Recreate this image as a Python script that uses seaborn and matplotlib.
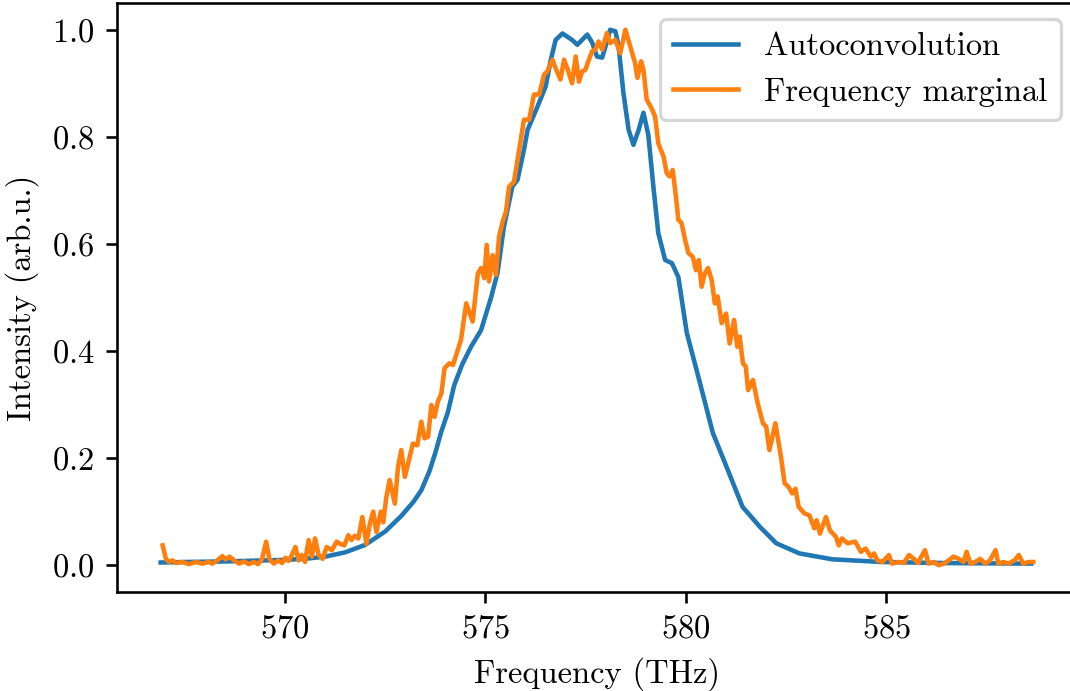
import matplotlib
matplotlib.use("Agg")
import matplotlib.pyplot as plt
import seaborn as sns
import numpy as np

# Autoconvolution of the measured spectrum (smooth curve)
auto_freq = [566.9, 567.5, 568.5, 569.5, 570.0, 570.5, 571.0, 571.5, 572.0, 572.5,
             572.9, 573.2, 573.4, 573.6, 573.75, 573.9, 574.06, 574.22, 574.42, 574.64,
             574.89, 575.14, 575.30, 575.46, 575.67, 575.8, 575.96, 576.05, 576.3, 576.5,
             576.63, 576.75, 576.92, 577.16, 577.29, 577.54, 577.66, 577.78, 577.91, 578.03,
             578.11, 578.24, 578.32, 578.44, 578.57, 578.69, 578.82, 578.94, 579.06, 579.19,
             579.31, 579.48, 579.65, 579.81, 580.02, 580.35, 580.67, 581.01, 581.41, 581.84,
             582.25, 582.83, 583.65, 584.89, 586.5, 588.61]
auto_int = [0.005, 0.006, 0.007, 0.009, 0.010, 0.012, 0.016, 0.024, 0.038, 0.063,
            0.092, 0.118, 0.140, 0.175, 0.21, 0.25, 0.285, 0.336, 0.375, 0.408,
            0.439, 0.50, 0.546, 0.632, 0.707, 0.72, 0.776, 0.813, 0.857, 0.894,
            0.944, 0.981, 0.993, 0.981, 0.972, 0.991, 0.976, 0.950, 0.948, 0.978,
            1.0, 0.997, 0.969, 0.882, 0.813, 0.785, 0.813, 0.845, 0.804, 0.705,
            0.62, 0.570, 0.564, 0.538, 0.434, 0.340, 0.247, 0.184, 0.109, 0.072,
            0.041, 0.022, 0.011, 0.006, 0.004, 0.003]

# Frequency marginal of the measured trace (noisy curve)
marg_freq = [566.95, 567.03, 567.11, 567.2, 567.28, 567.44, 567.61, 567.77, 567.94, 568.1,
             568.19, 568.31, 568.44, 568.52, 568.62, 568.73, 568.85, 568.98, 569.1, 569.22,
             569.33, 569.43, 569.53, 569.61, 569.72, 569.83, 569.93, 570.01, 570.09, 570.17,
             570.26, 570.34, 570.42, 570.5, 570.59, 570.67, 570.75, 570.84, 570.94, 571.04,
             571.17, 571.29, 571.37, 571.48, 571.58, 571.66, 571.74, 571.83, 571.93, 572.03,
             572.12, 572.2, 572.28, 572.39, 572.45, 572.53, 572.61, 572.74, 572.82, 572.9,
             572.99, 573.11, 573.19, 573.3, 573.4, 573.48, 573.57, 573.65, 573.73, 573.81,
             573.9, 573.98, 574.1, 574.19, 574.31, 574.39, 574.52, 574.68, 574.81, 574.89,
             574.97, 575.03, 575.09, 575.18, 575.26, 575.34, 575.43, 575.51, 575.59, 575.71,
             575.8, 575.96, 576.09, 576.21, 576.34, 576.46, 576.54, 576.67, 576.75, 576.87,
             576.96, 577.04, 577.16, 577.25, 577.33, 577.41, 577.49, 577.58, 577.66, 577.74,
             577.82, 577.91, 578.03, 578.11, 578.24, 578.36, 578.49, 578.61, 578.73, 578.79,
             578.88, 578.94, 579.02, 579.15, 579.23, 579.31, 579.44, 579.52, 579.59, 579.67,
             579.75, 579.81, 579.89, 579.98, 580.06, 580.17, 580.25, 580.32, 580.39, 580.47,
             580.55, 580.64, 580.72, 580.79, 580.89, 581.0, 581.09, 581.2, 581.28, 581.34,
             581.42, 581.49, 581.55, 581.67, 581.79, 581.92, 582.0, 582.08, 582.23, 582.37,
             582.46, 582.56, 582.65, 582.73, 582.81, 582.95, 583.08, 583.2, 583.26, 583.34,
             583.49, 583.59, 583.74, 583.81, 583.89, 584.03, 584.22, 584.36, 584.48, 584.61,
             584.69, 584.77, 584.9, 585.06, 585.14, 585.31, 585.43, 585.56, 585.68, 585.79,
             585.87, 585.96, 586.05, 586.18, 586.3, 586.43, 586.55, 586.67, 586.8, 586.92,
             587.0, 587.09, 587.21, 587.34, 587.46, 587.58, 587.72, 587.79, 587.92, 588.04,
             588.19, 588.3, 588.41, 588.54, 588.66]
marg_int = [0.037, 0.012, 0.006, 0.009, 0.004, 0.006, 0.002, 0.006, 0.003, 0.006,
            0.003, 0.009, 0.017, 0.011, 0.016, 0.009, 0.003, 0.007, 0.002, 0.006,
            0.002, 0.012, 0.044, 0.012, 0.003, 0.009, 0.004, 0.014, 0.008, 0.019,
            0.034, 0.009, 0.019, 0.006, 0.047, 0.016, 0.050, 0.019, 0.012, 0.034,
            0.028, 0.044, 0.040, 0.037, 0.056, 0.047, 0.055, 0.050, 0.090, 0.040,
            0.078, 0.100, 0.062, 0.100, 0.080, 0.128, 0.159, 0.115, 0.184, 0.215,
            0.165, 0.202, 0.227, 0.224, 0.268, 0.237, 0.240, 0.299, 0.277, 0.305,
            0.321, 0.368, 0.377, 0.374, 0.402, 0.421, 0.489, 0.455, 0.545, 0.555,
            0.536, 0.598, 0.530, 0.579, 0.542, 0.614, 0.642, 0.660, 0.707, 0.716,
            0.757, 0.832, 0.832, 0.879, 0.879, 0.916, 0.922, 0.944, 0.928, 0.907,
            0.944, 0.928, 0.900, 0.950, 0.903, 0.922, 0.925, 0.944, 0.960, 0.963,
            0.978, 0.963, 0.994, 0.975, 0.981, 0.956, 1.0, 0.969, 0.938, 0.910,
            0.941, 0.925, 0.870, 0.852, 0.838, 0.788, 0.763, 0.732, 0.726, 0.738,
            0.688, 0.645, 0.639, 0.607, 0.583, 0.576, 0.551, 0.570, 0.520, 0.545,
            0.555, 0.533, 0.489, 0.502, 0.452, 0.470, 0.414, 0.458, 0.408, 0.427,
            0.377, 0.371, 0.327, 0.346, 0.302, 0.265, 0.259, 0.215, 0.265, 0.202,
            0.153, 0.146, 0.134, 0.143, 0.109, 0.097, 0.093, 0.069, 0.084, 0.059,
            0.090, 0.065, 0.053, 0.037, 0.050, 0.041, 0.044, 0.025, 0.031, 0.016,
            0.022, 0.009, 0.006, 0.019, 0.003, 0.006, 0.004, 0.019, 0.012, 0.004,
            0.016, 0.028, 0.003, 0.006, 0.000, 0.003, 0.009, 0.016, 0.012, 0.006,
            0.025, 0.003, 0.006, 0.012, 0.003, 0.009, 0.028, 0.003, 0.006, 0.003,
            0.009, 0.019, 0.003, 0.006, 0.006]

plt.rcParams.update({
    "font.family": "serif",
    "font.serif": ["cmr10"],
    "mathtext.fontset": "cm",
    "axes.formatter.use_mathtext": True,
    "axes.unicode_minus": False,
    "font.size": 10,
})

DPI = 234
fig, ax = plt.subplots(figsize=(1070 / DPI, 691 / DPI), dpi=DPI)
# the right spine sits just past the figure edge
fig.subplots_adjust(left=0.1093, right=1.0065, top=0.9957, bottom=0.1433)

sns.lineplot(x=auto_freq, y=auto_int, ax=ax, color="#1f77b4", linewidth=1.4,
             label="Autoconvolution")
sns.lineplot(x=marg_freq, y=marg_int, ax=ax, color="#ff7f0e", linewidth=1.4,
             label="Frequency marginal")

ax.set_xlabel("Frequency (THz)")
ax.set_ylabel("Intensity (arb.u.)")
ax.set_xticks([570, 575, 580, 585])
ax.set_yticks([0.0, 0.2, 0.4, 0.6, 0.8, 1.0])
ax.set_xlim(565.81, 589.75)
ax.set_ylim(-0.05, 1.05)
ax.legend(loc="upper right")

fig.savefig("out.png", dpi=DPI)
